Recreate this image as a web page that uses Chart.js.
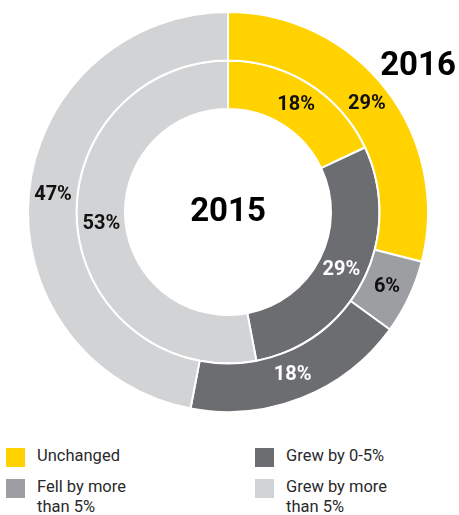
<!DOCTYPE html>
<html>
<head>
<meta charset="utf-8">
<script src="https://cdn.jsdelivr.net/npm/chart.js@4"></script>
<style>
  body { margin: 0; width: 459px; height: 515px; background: #fff; overflow: hidden; font-family: Roboto, sans-serif; }
  #chartBox { position: absolute; left: 0; top: 0; width: 459px; height: 420px; }
  #legend { position: absolute; left: 6px; top: 448px; display: grid; grid-template-rows: 31px 31px; grid-template-columns: 249px 190px; grid-auto-flow: column; }
  .item { display: flex; align-items: flex-start; }
  .swatch { width: 19px; height: 19px; flex: none; }
  .text { margin-left: 12px; margin-top: -2px; width: 112px; font-size: 16.5px; line-height: 20px; color: #2a2a2a; }
</style>
</head>
<body>
<div id="chartBox"><canvas id="donut"></canvas></div>
<div id="legend"></div>
<script>
// categories in clockwise order from 12 o'clock
const categories = ['Unchanged', 'Fell by more than 5%', 'Grew by 0-5%', 'Grew by more than 5%'];
const values2016 = [29, 6, 18, 47];
const values2015 = [18, 0, 29, 53];
const colors = ['#FFD200', '#9D9EA2', '#6C6D71', '#D2D3D5'];
const labelColors = ['#111', '#111', '#fff', '#111'];

// simple html legend
const legend = document.getElementById('legend');
categories.forEach((name, i) => {
  legend.innerHTML += `<div class="item"><div class="swatch" style="background:${colors[i]}"></div><div class="text">${name}</div></div>`;
});

const percentLabels = {
  id: 'percentLabels',
  afterDatasetsDraw(chart) {
    const ctx = chart.ctx;
    ctx.save();
    ctx.font = 'bold 20px Roboto';
    ctx.textAlign = 'center';
    ctx.textBaseline = 'middle';
    chart.data.datasets.forEach((ds, d) => {
      chart.getDatasetMeta(d).data.forEach((arc, i) => {
        if (!ds.data[i]) return;
        const p = arc.tooltipPosition();
        ctx.fillStyle = labelColors[i];
        ctx.fillText(ds.data[i] + '%', p.x, p.y);
      });
    });
    // year titles
    const area = chart.chartArea;
    const cx = (area.left + area.right) / 2;
    const cy = (area.top + area.bottom) / 2;
    ctx.font = 'bold 33px Roboto';
    ctx.fillStyle = '#000';
    ctx.fillText('2015', cx, cy + 1);
    ctx.fillText('2016', 418, 67);
    ctx.restore();
  }
};

new Chart(document.getElementById('donut'), {
  type: 'doughnut',
  data: {
    labels: categories,
    datasets: [
      { label: '2016', data: values2016, backgroundColor: colors, borderColor: '#fff', borderWidth: 2 },
      { label: '2015', data: values2015, backgroundColor: colors, borderColor: '#fff', borderWidth: 2 }
    ]
  },
  options: {
    responsive: true,
    maintainAspectRatio: false,
    animation: false,
    radius: 200,
    cutout: '51.5%',
    hoverOffset: 0,
    layout: { padding: { left: 28, top: 12, right: 31, bottom: 8 } },
    plugins: {
      legend: { display: false },
      tooltip: { enabled: false }
    }
  },
  plugins: [percentLabels]
});
</script>
</body>
</html>
